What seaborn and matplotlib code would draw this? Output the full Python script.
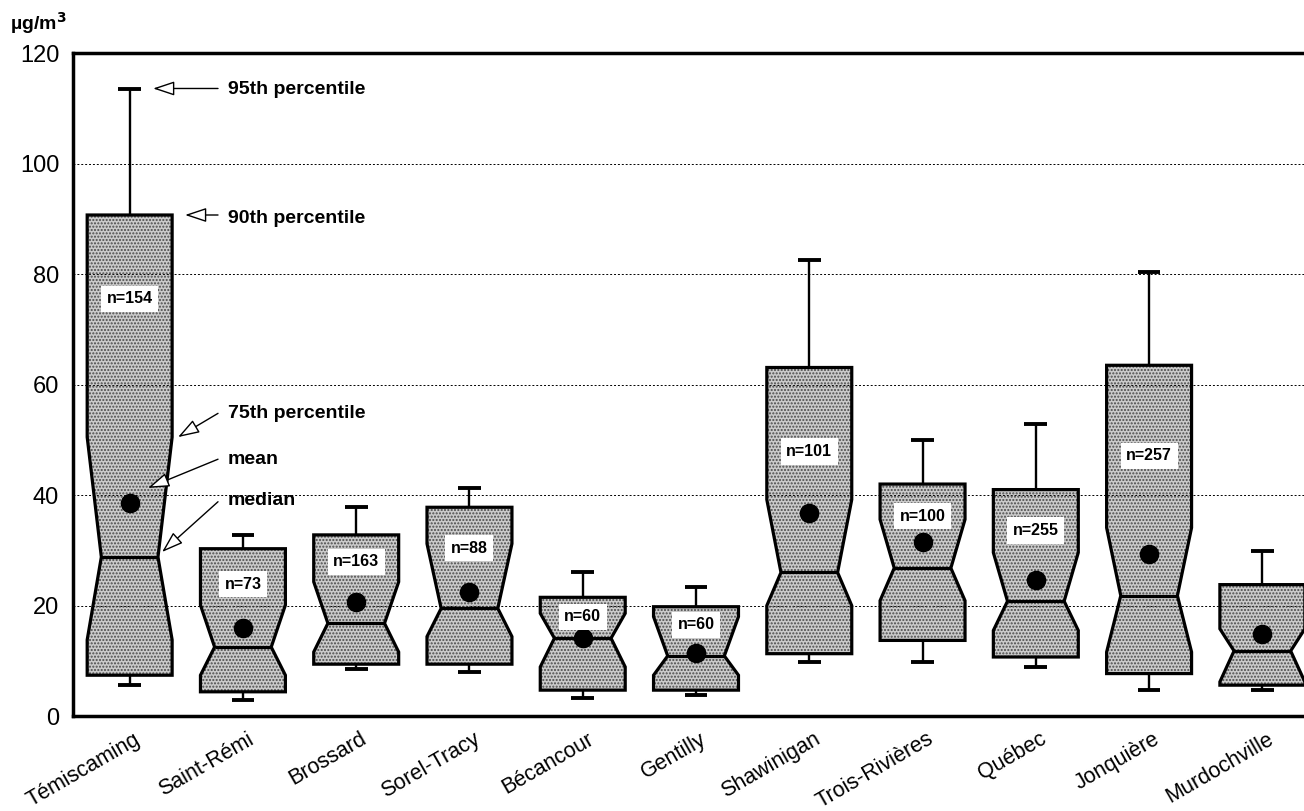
import matplotlib
matplotlib.use('Agg')
import matplotlib.pyplot as plt
import matplotlib.transforms as mtransforms
from matplotlib.patches import Polygon
import seaborn as sns

# Stations (left to right)
stations = ['Témiscaming', 'Saint-Rémi', 'Brossard', 'Sorel-Tracy', 'Bécancour', 'Gentilly',
            'Shawinigan', 'Trois-Rivières', 'Québec', 'Jonquière', 'Murdochville']

# Percentiles (µg/m3)
p95 = [113.5, 32.8, 37.8, 41.2, 26.0, 23.4, 82.5, 50.0, 52.9, 80.4, 29.9]
p90 = [90.7, 30.3, 32.8, 37.8, 21.5, 19.8, 63.1, 42.0, 41.0, 63.5, 23.8]
p75 = [50.5, 20.1, 24.3, 31.2, 18.6, 18.0, 39.2, 35.6, 29.6, 34.1, 15.8]
median = [28.8, 12.5, 16.8, 19.5, 14.1, 10.9, 26.0, 26.8, 20.8, 21.8, 11.8]
p25 = [13.8, 7.4, 11.6, 14.4, 8.9, 7.4, 20.0, 20.9, 15.5, 11.6, 6.2]
p10 = [7.4, 4.4, 9.4, 9.4, 4.7, 4.7, 11.3, 13.7, 10.7, 7.7, 5.6]
p5 = [5.6, 2.9, 8.5, 7.9, 3.3, 3.8, 9.8, 9.8, 8.8, 4.7, 4.7]
mean = [38.6, 15.9, 20.7, 22.5, 14.1, 11.5, 36.8, 31.6, 24.7, 29.4, 14.9]

# sample sizes (Murdochville label is off the picture)
n_obs = [154, 73, 163, 88, 60, 60, 101, 100, 255, 257]
n_label_y = [75.5, 23.9, 27.9, 30.4, 18.0, 16.5, 47.9, 36.2, 33.6, 47.1]

sns.set_style('white')
plt.rcParams['font.family'] = ['Liberation Sans', 'DejaVu Sans']
plt.rcParams['text.color'] = 'black'
plt.rcParams['xtick.color'] = 'black'
plt.rcParams['ytick.color'] = 'black'

fig = plt.figure(figsize=(13.04, 8.11), dpi=100)
ax = fig.add_axes([0.056, 0.117, 0.9555, 0.8175])

pos = list(range(len(stations)))
half = 0.375      # half box width
notch = 0.25      # half width at the median

for i in pos:
    xs = [i - half, i + half, i + half, i + notch, i + half, i + half,
          i - half, i - half, i - notch, i - half]
    ys = [p10[i], p10[i], p25[i], median[i], p75[i], p90[i],
          p90[i], p75[i], median[i], p25[i]]
    verts = list(zip(xs, ys))
    ax.add_patch(Polygon(verts, closed=True, facecolor='#cbcbcb', edgecolor='none', zorder=2))
    ax.add_patch(Polygon(verts, closed=True, fill=False, hatch='.....', edgecolor='#4a4a4a',
                         linewidth=0, zorder=2.2))
    ax.add_patch(Polygon(verts, closed=True, fill=False, edgecolor='black', linewidth=2.3, zorder=3))
    ax.hlines(median[i], i - notch, i + notch, color='black', linewidth=2.3, zorder=3)
    # whiskers and caps
    ax.vlines(i, p90[i], p95[i], color='black', linewidth=1.7, zorder=3)
    ax.vlines(i, p5[i], p10[i], color='black', linewidth=1.7, zorder=3)
    ax.hlines([p95[i], p5[i]], i - 0.1, i + 0.1, color='black', linewidth=2.8, zorder=3)

# dotted grid
for g in [20, 40, 60, 80, 100]:
    ax.axhline(g, color='black', linestyle=(0, (2, 2)), linewidth=0.7, zorder=2.1)

# means
sns.scatterplot(x=pos, y=mean, s=170, color='black', edgecolor='black', zorder=5, ax=ax, legend=False)

# n labels
for i, (nv, ny) in enumerate(zip(n_obs, n_label_y)):
    ax.text(i, ny, f'n={nv}', ha='center', va='center', fontsize=11.5, fontweight='bold',
            zorder=6, bbox=dict(boxstyle='square,pad=0.35', facecolor='white', edgecolor='none'))

# legend annotations on the first box
arrow = dict(arrowstyle='-|>,head_length=0.6,head_width=0.2', facecolor='white',
             edgecolor='black', linewidth=1.0, mutation_scale=22, shrinkA=0, shrinkB=0)
notes = [('95th percentile', 113.4, (0.78, 113.6), (0.207, 113.6)),
         ('90th percentile', 90.0, (0.78, 90.7), (0.489, 90.7)),
         ('75th percentile', 54.8, (0.78, 54.8), (0.427, 50.5)),
         ('mean', 46.5, (0.78, 46.5), (0.162, 41.3)),
         ('median', 39.0, (0.78, 38.8), (0.286, 29.7))]
for label, ty, tail, head in notes:
    ax.annotate('', xy=head, xytext=tail, arrowprops=arrow, zorder=6)
    ax.text(0.868, ty, label, ha='left', va='center', fontsize=14, fontweight='bold', zorder=6)

# axes
ax.set_xlim(-0.5, len(stations) - 0.5)
ax.set_ylim(0, 120)
ax.set_yticks(range(0, 121, 20))
ax.set_yticks(range(0, 121, 5), minor=True)
ax.tick_params(axis='y', which='both', direction='in', labelsize=17, pad=10)
ax.tick_params(axis='y', which='major', length=6, width=1)
ax.tick_params(axis='y', which='minor', length=5, width=0.8)

ax.set_xticks(pos)
ax.set_xticks([p + 0.5 for p in pos[:-1]], minor=True)
ax.set_xticklabels(stations, rotation=30, ha='right', rotation_mode='anchor', fontsize=15.5)
ax.tick_params(axis='x', which='major', length=0, pad=9)
ax.tick_params(axis='x', which='minor', direction='in', length=11, width=0.8)
shift = mtransforms.ScaledTranslation(4 / 100, 0, fig.dpi_scale_trans)
for lab in ax.get_xticklabels():
    lab.set_transform(lab.get_transform() + shift)

for side in ['left', 'bottom', 'top', 'right']:
    ax.spines[side].set_color('black')
    ax.spines[side].set_linewidth(2.5)

fig.text(0.008, 0.972, 'µg/m$^{\\mathbf{3}}$', fontsize=14, fontweight='bold', ha='left', va='center')

fig.savefig('out.png', dpi=100)
